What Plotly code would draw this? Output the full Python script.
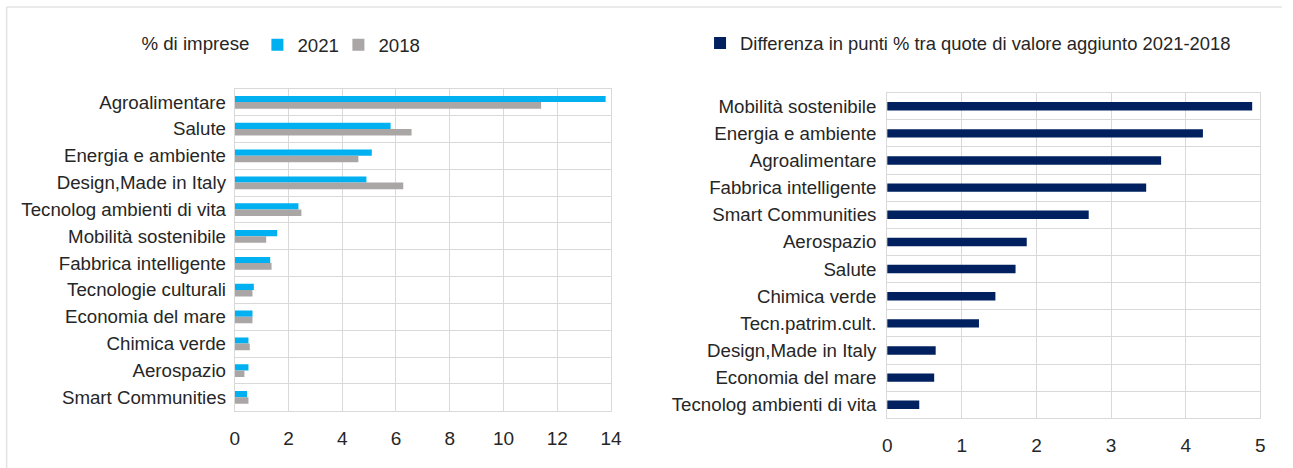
import plotly.graph_objects as go

cats_left = ["Agroalimentare", "Salute", "Energia e ambiente", "Design,Made in Italy",
             "Tecnolog ambienti di vita", "Mobilità sostenibile", "Fabbrica intelligente",
             "Tecnologie culturali", "Economia del mare", "Chimica verde", "Aerospazio",
             "Smart Communities"]
v2021 = [13.8, 5.8, 5.1, 4.9, 2.37, 1.58, 1.32, 0.71, 0.66, 0.51, 0.51, 0.46]
v2018 = [11.4, 6.58, 4.6, 6.27, 2.48, 1.17, 1.37, 0.66, 0.66, 0.56, 0.36, 0.51]

cats_right = ["Mobilità sostenibile", "Energia e ambiente", "Agroalimentare",
              "Fabbrica intelligente", "Smart Communities", "Aerospazio", "Salute",
              "Chimica verde", "Tecn.patrim.cult.", "Design,Made in Italy",
              "Economia del mare", "Tecnolog ambienti di vita"]
diff = [4.89, 4.23, 3.67, 3.47, 2.70, 1.87, 1.72, 1.45, 1.23, 0.65, 0.63, 0.43]

FONT = "Liberation Sans, Arial, sans-serif"
GRID = "#d9d9d9"
W, H = 1293, 468


def fx(X):
    # screen x-pixel -> paper fraction (compensates the capture's horizontal mapping)
    return ((X - 5.4) / 0.987) / W


fig = go.Figure()
fig.add_trace(go.Bar(y=cats_left, x=v2021, orientation="h", name="2021",
                     marker=dict(color="#00B0F0", line=dict(width=0)),
                     offset=-0.23, width=0.23, xaxis="x", yaxis="y", legend="legend"))
fig.add_trace(go.Bar(y=cats_left, x=v2018, orientation="h", name="2018",
                     marker=dict(color="#AAA6A6", line=dict(width=0)),
                     offset=0.0, width=0.245, xaxis="x", yaxis="y", legend="legend"))
fig.add_trace(go.Bar(y=cats_right, x=diff, orientation="h",
                     name="Differenza in punti % tra quote di valore aggiunto 2021-2018",
                     marker=dict(color="#002060", line=dict(width=0)),
                     width=0.31, xaxis="x2", yaxis="y2", legend="legend2"))

axis_common = dict(showgrid=True, gridcolor=GRID, gridwidth=1, showline=True, mirror=True,
                   linecolor=GRID, linewidth=1, ticks="", zeroline=False)

fig.update_layout(
    width=W, height=H, margin=dict(l=0, r=0, t=0, b=0),
    paper_bgcolor="white", plot_bgcolor="white",
    barmode="overlay",
    font=dict(family=FONT, color="#262626", size=18.7),
    xaxis=dict(domain=[fx(235), fx(611)], range=[0, 14], dtick=2, anchor="y",
               tickfont=dict(size=19), ticklabelstandoff=10, **axis_common),
    yaxis=dict(domain=[1 - 410.7 / H, 1 - 88.7 / H], type="category", autorange="reversed",
               tickson="boundaries", anchor="x", tickfont=dict(size=18.7),
               ticklabelstandoff=4, **axis_common),
    xaxis2=dict(domain=[fx(887), fx(1260)], range=[0, 5], dtick=1, anchor="y2",
                tickfont=dict(size=19), ticklabelstandoff=10, **axis_common),
    yaxis2=dict(domain=[1 - 418.3 / H, 1 - 92.7 / H], type="category", autorange="reversed",
                tickson="boundaries", anchor="x2", tickfont=dict(size=18.7),
                ticklabelstandoff=6, **axis_common),
    legend=dict(orientation="h", x=fx(139.7), y=1 - 45 / H, xanchor="left", yanchor="middle",
                title=dict(text="% di imprese", side="left", font=dict(size=18.7)),
                font=dict(size=18.7), entrywidth=36, entrywidthmode="pixels",
                bgcolor="rgba(0,0,0,0)"),
    legend2=dict(orientation="h", x=fx(700), y=1 - 43 / H, xanchor="left", yanchor="middle",
                 font=dict(size=18.4), bgcolor="rgba(0,0,0,0)"),
    showlegend=True,
    shapes=[
        dict(type="line", xref="paper", yref="paper", x0=fx(7), x1=1, y0=1 - 7 / H, y1=1 - 7 / H,
             line=dict(color="#e3e3e3", width=1.5)),
        dict(type="line", xref="paper", yref="paper", x0=fx(7), x1=fx(7), y0=0, y1=1 - 7 / H,
             line=dict(color="#e3e3e3", width=1.5)),
    ],
)

fig.write_html(
    "out.html",
    config={"displayModeBar": False},
    post_script=("document.body.style.margin='0';"
                 "document.body.style.overflow='hidden';"
                 "document.documentElement.style.overflow='hidden';"),
)
